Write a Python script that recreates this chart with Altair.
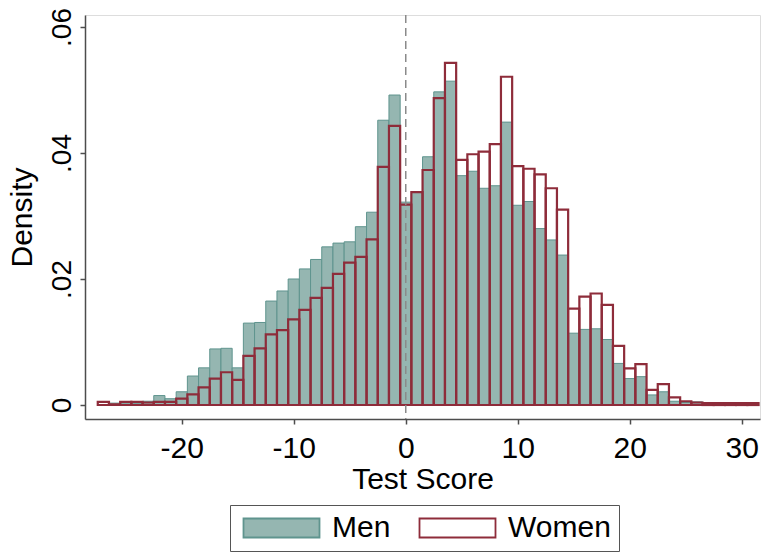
import altair as alt
import pandas as pd

# Histogram bins (width 1, centred on integer scores)
bins = list(range(-27, 32))

men = [
    0.0000, 0.0003, 0.0002, 0.0003, 0.0006, 0.0015, 0.0010, 0.0021, 0.0046, 0.0059,
    0.0089, 0.0090, 0.0059, 0.0130, 0.0131, 0.0165, 0.0181, 0.0200, 0.0216, 0.0231,
    0.0251, 0.0257, 0.0259, 0.0283, 0.0306, 0.0452, 0.0492, 0.0322, 0.0338, 0.0394,
    0.0497, 0.0514, 0.0364, 0.0371, 0.0344, 0.0348, 0.0449, 0.0317, 0.0323, 0.0280,
    0.0262, 0.0238, 0.0114, 0.0120, 0.0121, 0.0104, 0.0066, 0.0042, 0.0045, 0.0016,
    0.0021, 0.0006, 0.0004, 0.0005, 0.0002, 0.0001, 0.0001, 0.0001, 0.0001,
]

women = [
    0.0005, 0.0001, 0.0005, 0.0005, 0.0004, 0.0005, 0.0005, 0.0010, 0.0017, 0.0028,
    0.0042, 0.0052, 0.0040, 0.0078, 0.0090, 0.0112, 0.0119, 0.0136, 0.0151, 0.0170,
    0.0186, 0.0208, 0.0226, 0.0235, 0.0263, 0.0378, 0.0443, 0.0318, 0.0338, 0.0373,
    0.0487, 0.0543, 0.0389, 0.0398, 0.0402, 0.0414, 0.0521, 0.0379, 0.0375, 0.0366,
    0.0344, 0.0310, 0.0153, 0.0172, 0.0177, 0.0159, 0.0094, 0.0058, 0.0065, 0.0024,
    0.0033, 0.0012, 0.0006, 0.0004, 0.0003, 0.0003, 0.0003, 0.0003, 0.0003,
]

groups = ["Men", "Women"]
x_ticks = [-20, -10, 0, 10, 20, 30]
y_ticks = [0, 0.02, 0.04, 0.06]

FONT = "Liberation Sans"
TEAL_FILL = "#95b6b1"
TEAL_LINE = "#5f948e"
RED_LINE = "#8e2c3a"

df = pd.concat(
    [
        pd.DataFrame({"score": bins, "density": men, "group": "Men"}),
        pd.DataFrame({"score": bins, "density": women, "group": "Women"}),
    ],
    ignore_index=True,
)

x_scale = alt.Scale(domain=[-28.64, 31.63], nice=False, zero=False)
y_scale = alt.Scale(domain=[-0.00222, 0.0619], nice=False, zero=False)

fill_scale = alt.Scale(domain=groups, range=[TEAL_FILL, "transparent"])
stroke_scale = alt.Scale(domain=groups, range=[TEAL_LINE, RED_LINE])

x_axis = alt.Axis(
    values=x_ticks,
    labelExpr="'' + datum.value",
    title="Test Score",
    titleY=69,
    titleBaseline="alphabetic",
    labelPadding=9,
)
y_axis = alt.Axis(
    values=y_ticks,
    labelExpr="datum.value == 0 ? '0' : replace(format(datum.value, '.2f'), '0.', '.')",
    labelAngle=270,
    labelAlign="center",
    labelBaseline="bottom",
    labelPadding=4,
    labelFontSize=28,
    title="Density",
    titleX=-54,
    titleBaseline="alphabetic",
)

legend = alt.Legend(
    title=None,
    orient="none",
    legendX=145,
    legendY=490,
    direction="horizontal",
    symbolType="M-1,-1H7V1H-1Z",
    symbolSize=361,
    symbolStrokeWidth=1.8,
    labelOffset=64,
    columnPadding=23,
    padding=8,
    labelExpr="datum.label == 'Women' ? 'Women ' : datum.label",
    strokeColor="#555555",
    fillColor="white",
    labelFontSize=30,
    labelFont=FONT,
    labelColor="black",
)

base = alt.Chart(df).transform_calculate(
    left="datum.score - 0.5", right="datum.score + 0.5", zero="0"
)

men_bars = base.transform_filter(alt.datum.group == "Men").mark_rect(
    strokeWidth=1
).encode(
    x=alt.X("left:Q", scale=x_scale, axis=x_axis),
    x2="right:Q",
    y=alt.Y("density:Q", scale=y_scale, axis=y_axis),
    y2="zero:Q",
    fill=alt.Fill("group:N", scale=fill_scale, legend=legend),
    stroke=alt.Stroke("group:N", scale=stroke_scale, legend=legend),
)

women_bars = base.transform_filter(alt.datum.group == "Women").mark_rect(
    strokeWidth=2.2
).encode(
    x=alt.X("left:Q", scale=x_scale, axis=x_axis),
    x2="right:Q",
    y=alt.Y("density:Q", scale=y_scale, axis=y_axis),
    y2="zero:Q",
    fill=alt.Fill("group:N", scale=fill_scale, legend=legend),
    stroke=alt.Stroke("group:N", scale=stroke_scale, legend=legend),
)

cutoff = alt.Chart(pd.DataFrame({"score": [0]})).mark_rule(
    color="#8a8a8a", strokeWidth=1.5, strokeDash=[8, 5]
).encode(x=alt.X("score:Q", scale=x_scale))

chart = (
    alt.layer(men_bars, women_bars, cutoff)
    .properties(
        width=675,
        height=404,
        autosize=alt.AutoSizeParams(type="none"),
        padding={"left": 85, "top": 15, "right": 3, "bottom": 135},
    )
    .configure_view(stroke=None)
    .configure(background="white")
    .configure_axis(
        grid=False,
        domainColor="#4d4d4d",
        domainWidth=1.5,
        tickColor="#4d4d4d",
        tickWidth=1.5,
        tickSize=5,
        labelFont=FONT,
        labelFontSize=30,
        labelColor="black",
        titleFont=FONT,
        titleFontSize=30,
        titleFontWeight="normal",
        titleColor="black",
    )
)

chart.save("out.html", embed_options={"renderer": "svg", "actions": False})
